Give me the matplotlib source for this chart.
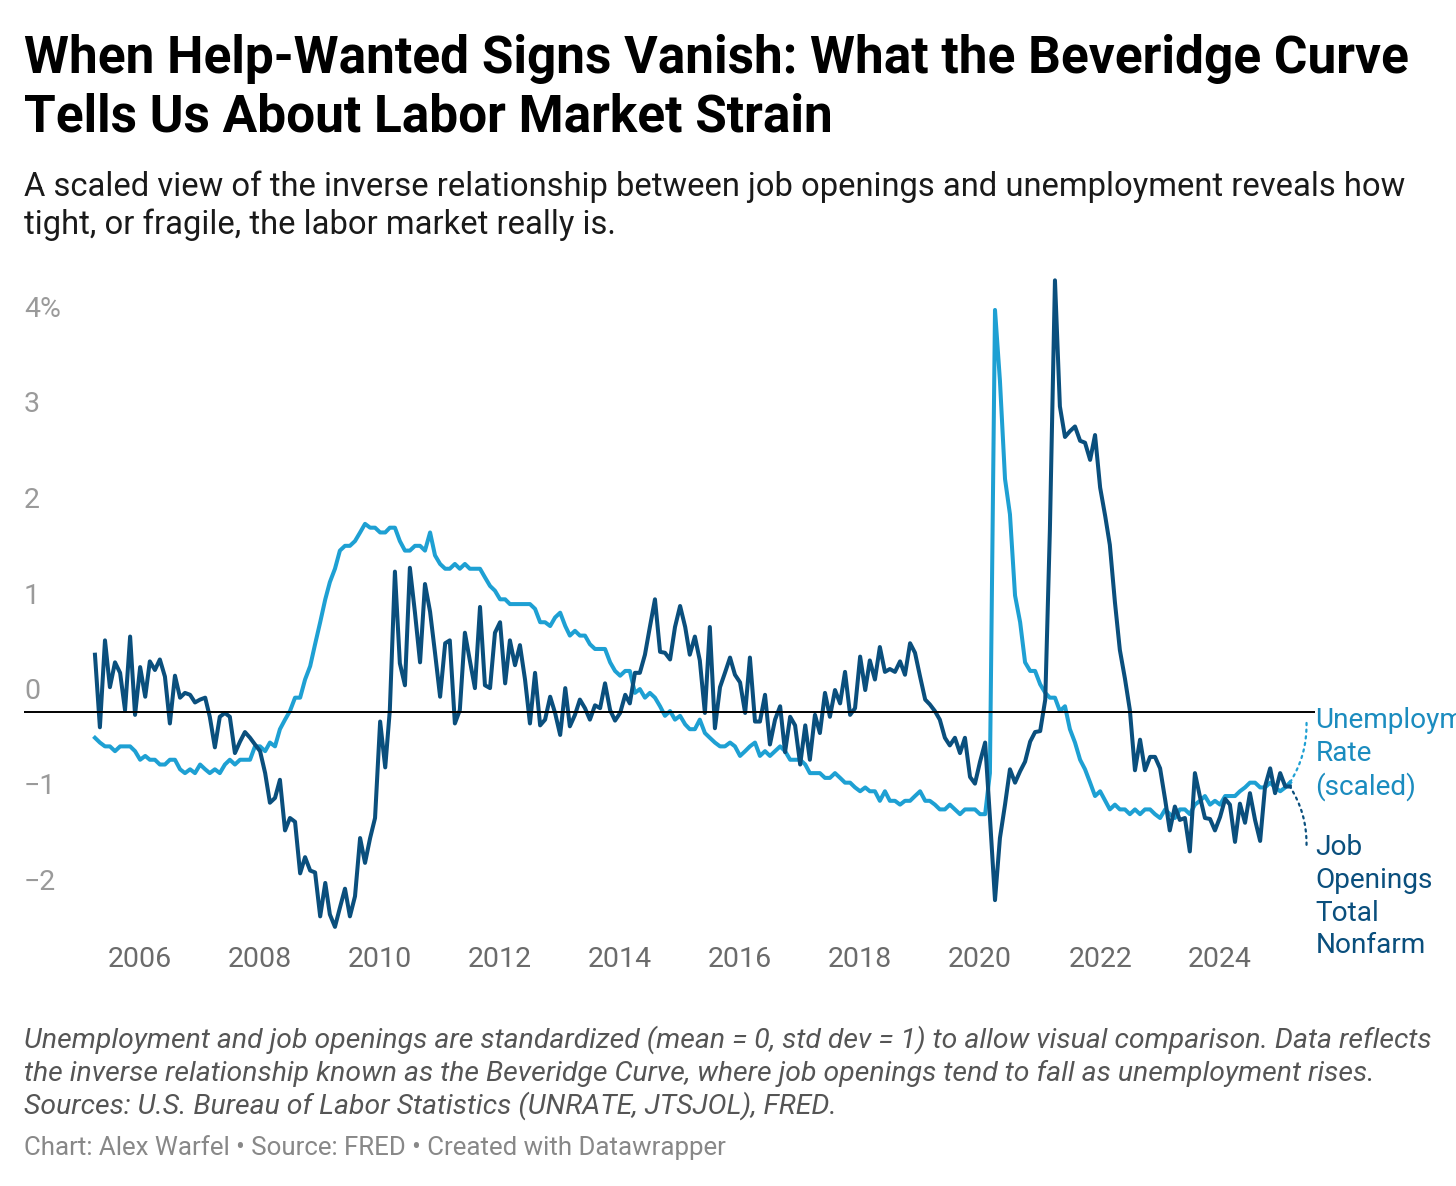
import matplotlib
matplotlib.use('Agg')
import matplotlib.pyplot as plt
import matplotlib.dates as mdates
import matplotlib.transforms as mtransforms
import pandas as pd

plt.rcParams['font.family'] = ['Roboto', 'DejaVu Sans']

# monthly, April 2005 .. March 2025 (standardized values)
dates = pd.date_range('2005-04-01', periods=240, freq='MS')

unemployment = [
    -0.27, -0.32, -0.36, -0.36, -0.41, -0.36, -0.36, -0.36, -0.41,                  # 2005
    -0.50, -0.46, -0.50, -0.50, -0.55, -0.55, -0.50, -0.50, -0.60, -0.64, -0.60, -0.64,  # 2006
    -0.55, -0.60, -0.64, -0.60, -0.64, -0.55, -0.50, -0.55, -0.50, -0.50, -0.50, -0.36,  # 2007
    -0.36, -0.41, -0.32, -0.36, -0.18, -0.08, 0.01, 0.15, 0.15, 0.34, 0.48, 0.71,        # 2008
    0.94, 1.18, 1.36, 1.50, 1.69, 1.74, 1.74, 1.79, 1.88, 1.97, 1.93, 1.93,              # 2009
    1.88, 1.88, 1.93, 1.93, 1.79, 1.69, 1.69, 1.74, 1.74, 1.69, 1.88, 1.64,              # 2010
    1.55, 1.50, 1.50, 1.55, 1.50, 1.55, 1.50, 1.50, 1.50, 1.41, 1.32, 1.27,              # 2011
    1.18, 1.18, 1.13, 1.13, 1.13, 1.13, 1.13, 1.08, 0.94, 0.94, 0.90, 0.99,              # 2012
    1.04, 0.90, 0.80, 0.85, 0.80, 0.80, 0.71, 0.66, 0.66, 0.66, 0.52, 0.43,              # 2013
    0.38, 0.43, 0.43, 0.20, 0.24, 0.15, 0.20, 0.15, 0.06, -0.04, 0.01, -0.08,            # 2014
    -0.04, -0.13, -0.18, -0.18, -0.08, -0.22, -0.27, -0.32, -0.36, -0.36, -0.32, -0.36,  # 2015
    -0.46, -0.41, -0.36, -0.32, -0.46, -0.41, -0.46, -0.41, -0.36, -0.41, -0.50, -0.50,  # 2016
    -0.50, -0.55, -0.64, -0.64, -0.64, -0.69, -0.69, -0.64, -0.69, -0.74, -0.74, -0.79,  # 2017
    -0.83, -0.79, -0.83, -0.83, -0.93, -0.83, -0.93, -0.93, -0.97, -0.93, -0.93, -0.88,  # 2018
    -0.83, -0.93, -0.93, -0.97, -1.02, -1.02, -0.97, -1.02, -1.07, -1.02, -1.02, -1.02,  # 2019
    -1.07, -1.07, -0.64, 4.21, 3.47, 2.44, 2.07, 1.22, 0.94, 0.52, 0.43, 0.43,           # 2020
    0.29, 0.20, 0.15, 0.15, 0.01, 0.06, -0.18, -0.32, -0.50, -0.60, -0.74, -0.88,        # 2021
    -0.83, -0.93, -1.02, -0.97, -1.02, -1.02, -1.07, -1.02, -1.07, -1.02, -1.02, -1.07,  # 2022
    -1.11, -1.02, -1.07, -1.11, -1.02, -1.02, -1.07, -0.97, -0.93, -0.88, -0.97, -0.93,  # 2023
    -0.97, -0.88, -0.88, -0.88, -0.83, -0.79, -0.74, -0.74, -0.79, -0.79, -0.74, -0.79,  # 2024
    -0.83, -0.79, -0.74,                                                                 # 2025
]

job_openings = [
    0.60, -0.16, 0.75, 0.26, 0.52, 0.41, 0.02, 0.79, -0.03,                              # 2005
    0.47, 0.16, 0.53, 0.44, 0.55, 0.37, -0.12, 0.38, 0.15, 0.20, 0.18, 0.10,             # 2006
    0.13, 0.15, -0.05, -0.37, -0.05, -0.01, -0.05, -0.43, -0.31, -0.21, -0.27, -0.34,    # 2007
    -0.41, -0.64, -0.95, -0.90, -0.71, -1.24, -1.11, -1.15, -1.69, -1.52, -1.66, -1.68,  # 2008
    -2.14, -1.79, -2.12, -2.25, -2.05, -1.85, -2.14, -1.93, -1.32, -1.58, -1.32, -1.11,  # 2009
    -0.10, -0.58, 0.02, 1.47, 0.51, 0.28, 1.51, 1.04, 0.52, 1.34, 1.05, 0.62,            # 2010
    0.16, 0.72, 0.75, -0.12, 0.02, 0.83, 0.54, 0.25, 1.10, 0.28, 0.25, 0.83,             # 2011
    0.94, 0.30, 0.75, 0.49, 0.70, 0.34, -0.12, 0.41, -0.14, -0.08, 0.16, -0.01,          # 2012
    -0.24, 0.25, -0.15, -0.03, 0.13, 0.04, -0.08, 0.07, 0.04, 0.30, 0.02, -0.09,         # 2013
    -0.01, 0.18, 0.09, 0.41, 0.41, 0.60, 0.89, 1.18, 0.63, 0.62, 0.55, 0.89,             # 2014
    1.11, 0.89, 0.60, 0.79, 0.54, -0.01, 0.89, -0.17, 0.26, 0.41, 0.57, 0.39,            # 2015
    0.31, -0.01, 0.57, -0.10, -0.10, 0.18, -0.34, -0.08, 0.06, -0.42, -0.05, -0.14,      # 2016
    -0.55, -0.14, -0.50, -0.03, -0.22, 0.20, -0.05, 0.23, 0.09, 0.42, -0.03, 0.04,       # 2017
    0.58, 0.23, 0.54, 0.34, 0.68, 0.42, 0.45, 0.42, 0.53, 0.39, 0.72, 0.62,              # 2018
    0.37, 0.13, 0.08, 0.01, -0.08, -0.27, -0.35, -0.27, -0.43, -0.27, -0.68, -0.75,      # 2019
    -0.52, -0.32, -1.10, -1.97, -1.32, -0.97, -0.60, -0.74, -0.62, -0.52, -0.31, -0.21,  # 2020
    -0.20, 0.13, 1.90, 4.52, 3.20, 2.88, 2.94, 2.99, 2.84, 2.82, 2.64, 2.90,             # 2021
    2.35, 2.05, 1.75, 1.15, 0.65, 0.35, 0.02, -0.61, -0.29, -0.61, -0.47, -0.47,         # 2022
    -0.59, -0.92, -1.24, -0.99, -1.13, -1.11, -1.46, -0.64, -0.89, -1.11, -1.12, -1.24,  # 2023
    -1.10, -0.91, -0.97, -1.36, -0.96, -1.16, -0.85, -1.13, -1.35, -0.78, -0.59, -0.85,  # 2024
    -0.64, -0.78, -0.78,                                                                 # 2025
]

y_ticks = [4, 3, 2, 1, 0, -1, -2]
y_tick_labels = ['4%', '3', '2', '1', '0', '\u22121', '\u22122']
x_tick_years = list(range(2006, 2025, 2))

title_lines = ['When Help-Wanted Signs Vanish: What the Beveridge Curve',
               'Tells Us About Labor Market Strain']
subtitle_lines = ['A scaled view of the inverse relationship between job openings and unemployment reveals how',
                  'tight, or fragile, the labor market really is.']
note_lines = ['Unemployment and job openings are standardized (mean = 0, std dev = 1) to allow visual comparison. Data reflects',
              'the inverse relationship known as the Beveridge Curve, where job openings tend to fall as unemployment rises.',
              'Sources: U.S. Bureau of Labor Statistics (UNRATE, JTSJOL), FRED.']
footer = 'Chart: Alex Warfel \u2022 Source: FRED \u2022 Created with Datawrapper'

LIGHT = '#1ea0d3'
LIGHT_TXT = '#1b8cbf'
DARK = '#0a4f7d'

W, H = 1456, 1186
fig = plt.figure(figsize=(W / 100, H / 100), dpi=100)

# plot area in pixels: x 24..1315, y 270..940, zero at 712, 95.5 px per unit
top_px, bot_px, zero_px, ppu = 270, 940, 712, 95.5
ax = fig.add_axes([24 / W, 1 - bot_px / H, (1315 - 24) / W, (bot_px - top_px) / H])
ax.set_ylim((zero_px - bot_px) / ppu, (zero_px - top_px) / ppu)
ax.set_xlim(mdates.date2num(pd.Timestamp('2004-01-25')),
            mdates.date2num(pd.Timestamp('2025-08-01')))

ax.plot(dates, unemployment, color=LIGHT, lw=2.9, solid_joinstyle='round', zorder=2)
ax.plot(dates, job_openings, color=DARK, lw=2.9, solid_joinstyle='round', zorder=3)
ax.axhline(0, color='black', lw=1.4, zorder=4)

for s in ax.spines.values():
    s.set_visible(False)
ax.set_yticks([])
ax.set_xticks([pd.Timestamp(f'{y}-01-01') for y in x_tick_years])
ax.set_xticklabels([str(y) for y in x_tick_years])
ax.tick_params(axis='x', length=0, labelsize=20.5, labelcolor='#6b6b6b', pad=4)

# y labels sit above their (hidden) gridlines, left aligned
trans = mtransforms.offset_copy(ax.get_yaxis_transform(), fig=fig, y=13, units='dots')
for v, lab in zip(y_ticks, y_tick_labels):
    ax.text(0, v, lab, transform=trans, ha='left', va='baseline',
            fontsize=20.5, color='#9a9a9a')

# end labels with dotted connectors
last_date = dates[-1]
ax.annotate('', xy=(last_date, unemployment[-1]), xytext=(12, 43), textcoords='offset points',
            arrowprops=dict(arrowstyle='-', color=LIGHT, lw=1.6, linestyle=(0, (1, 2)),
                            shrinkA=0, shrinkB=0, connectionstyle='arc3,rad=-0.15'),
            annotation_clip=False)
ax.annotate('Unemployment\nRate\n(scaled)', xy=(last_date, unemployment[-1]),
            xytext=(18.5, 20.5), textcoords='offset points', ha='left', va='center',
            fontsize=20.2, color=LIGHT_TXT, linespacing=1.27, annotation_clip=False)
ax.annotate('', xy=(last_date, job_openings[-1]), xytext=(12, -42), textcoords='offset points',
            arrowprops=dict(arrowstyle='-', color=DARK, lw=1.6, linestyle=(0, (1, 2)),
                            shrinkA=0, shrinkB=0, connectionstyle='arc3,rad=0.15'),
            annotation_clip=False)
ax.annotate('Job\nOpenings\nTotal\nNonfarm', xy=(last_date, job_openings[-1]),
            xytext=(18.5, -79.5), textcoords='offset points', ha='left', va='center',
            fontsize=20.2, color=DARK, linespacing=1.27, annotation_clip=False)

# header and footer text
x0 = 24 / W
for i, line in enumerate(title_lines):
    fig.text(x0, 1 - (73 + 58 * i) / H, line, fontsize=37, fontweight='bold',
             color='black', va='baseline')
for i, line in enumerate(subtitle_lines):
    fig.text(x0, 1 - (196 + 38 * i) / H, line, fontsize=23.6, color='#1a1a1a', va='baseline')
for i, line in enumerate(note_lines):
    fig.text(x0, 1 - (1048 + 33 * i) / H, line, fontsize=20.4, style='italic',
             color='#555555', va='baseline')
fig.text(x0, 1 - 1155 / H, footer, fontsize=18.6, color='#888888', va='baseline')

fig.savefig('out.png', dpi=100)
